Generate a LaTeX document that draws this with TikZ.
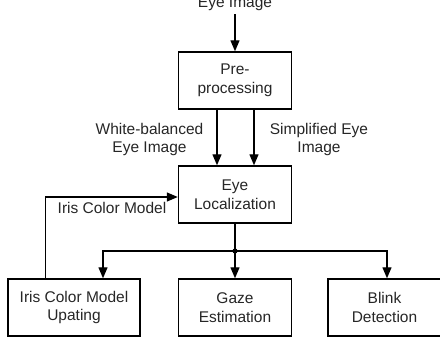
\documentclass[tikz,border=0pt]{standalone}
\usepackage{fontspec}
\setmainfont{Liberation Sans}
\usetikzlibrary{arrows.meta,calc}
\begin{document}
\begin{tikzpicture}[x=1pt,y=-1pt,
  every node/.style={font=\fontsize{15.5}{18.8}\selectfont, text=black!85},
  box/.style={draw, line width=1.4pt, minimum width=113pt, minimum height=57pt, align=center, inner sep=2pt},
  lbl/.style={align=center, inner sep=0pt},
  arr/.style={line width=1.3pt, -{Triangle[length=11pt,width=9pt]}},
  ln/.style={line width=1.3pt}]
\useasboundingbox (0,0) rectangle (440,345);
\node[lbl, anchor=base] (in) at (235,8) {Eye Image};
\node[box] (pre) at (235,80.5) {Pre-\\processing};
\node[box] (loc) at (235,194.5) {Eye\\Localization};
\node[box, minimum width=132pt] (iris) at (74,307.5) {Iris Color Model\\Upating};
\node[box] (gaze) at (235,307.5) {Gaze\\Estimation};
\node[box] (blink) at (384.5,307.5) {Blink\\Detection};
\node[lbl] (wb) at (149.5,139.5) {White-balanced\\Eye Image};
\node[lbl] (se) at (319,139.5) {Simplified Eye\\Image};
\node[lbl, anchor=base] (icm) at (112,214) {Iris Color Model};
\coordinate (j) at (235,251);
\draw[arr] ($(in.south)+(0,3)$) -- (pre.north);
\draw[arr] ($(pre.south)+(-18,0)$) -- ($(loc.north)+(-18,0)$);
\draw[arr] ($(pre.south)+(19,0)$) -- ($(loc.north)+(19,0)$);
\draw[arr] ($(iris.north west)+(38,0)$) |- ($(loc.west)+(0,2.5)$);
\draw[ln] (loc.south) -- (j);
\fill (j) circle (2.6);
\draw[arr] (j) -| ($(iris.north)+(29,0)$);
\draw[arr] (j) -- (gaze.north);
\draw[arr] (j) -| ($(blink.north)+(2.5,0)$);
\end{tikzpicture}
\end{document}
